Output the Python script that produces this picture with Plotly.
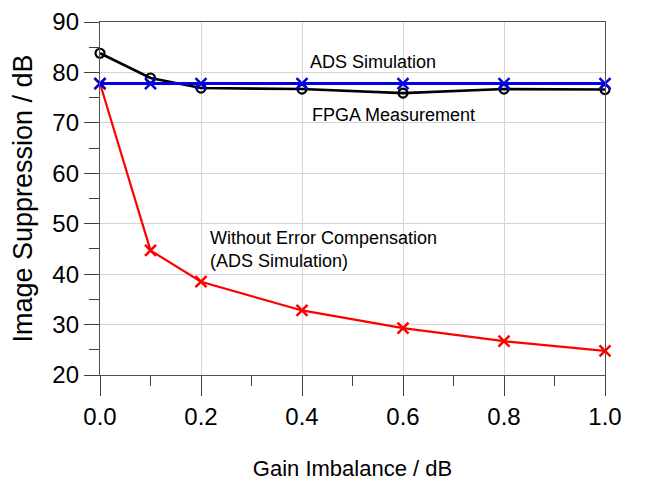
import plotly.graph_objects as go

gain_imbalance = [0.0, 0.1, 0.2, 0.4, 0.6, 0.8, 1.0]
fpga_measurement = [83.8, 78.9, 76.9, 76.7, 75.9, 76.7, 76.6]
ads_simulation = [77.8, 77.8, 77.8, 77.8, 77.8, 77.8, 77.8]
without_compensation = [77.8, 44.7, 38.5, 32.8, 29.3, 26.7, 24.8]

x_ticks = [0.0, 0.2, 0.4, 0.6, 0.8, 1.0]
x_tick_labels = ["0.0", "0.2", "0.4", "0.6", "0.8", "1.0"]
y_ticks = [20, 30, 40, 50, 60, 70, 80, 90]

FONT = "Liberation Sans, Arial, sans-serif"

fig = go.Figure()
fig.add_trace(go.Scatter(
    x=gain_imbalance, y=without_compensation, mode="lines+markers",
    line=dict(color="#ff0000", width=2.2),
    marker=dict(symbol="x-thin", size=11, line=dict(color="#ff0000", width=2.5)),
    cliponaxis=False, name="Without Error Compensation"))
fig.add_trace(go.Scatter(
    x=gain_imbalance, y=fpga_measurement, mode="lines+markers",
    line=dict(color="#000000", width=2.6),
    marker=dict(symbol="circle-open", size=9, color="#000000", line=dict(color="#000000", width=2.2)),
    cliponaxis=False, name="FPGA Measurement"))
fig.add_trace(go.Scatter(
    x=gain_imbalance, y=ads_simulation, mode="lines+markers",
    line=dict(color="#0000e0", width=3),
    marker=dict(symbol="x-thin", size=11, line=dict(color="#0000e0", width=2.5)),
    cliponaxis=False, name="ADS Simulation"))

fig.add_annotation(x=0.412, y=82.1, text="ADS Simulation", showarrow=False,
                   xanchor="left", yanchor="middle", font=dict(size=18, color="black", family=FONT))
fig.add_annotation(x=0.416, y=71.6, text="FPGA Measurement", showarrow=False,
                   xanchor="left", yanchor="middle", font=dict(size=18, color="black", family=FONT))
fig.add_annotation(x=0.214, y=44.8, text="Without Error Compensation<br>(ADS Simulation)", showarrow=False,
                   xanchor="left", yanchor="middle", align="left",
                   font=dict(size=18, color="black", family=FONT))

fig.update_layout(
    width=656, height=484,
    margin=dict(l=92, r=59, t=14, b=117),
    paper_bgcolor="white", plot_bgcolor="white",
    showlegend=False,
    font=dict(family=FONT, color="black"),
    xaxis=dict(
        range=[0, 1.0], tickvals=x_ticks, ticktext=x_tick_labels, automargin=False,
        ticks="outside", ticklen=20, tickwidth=1, tickcolor="#404040",
        minor=dict(dtick=0.1, ticks="outside", ticklen=10, tickcolor="#404040", showgrid=False),
        showgrid=True, gridcolor="#d4d4d4", gridwidth=1,
        showline=True, linecolor="#505050", linewidth=1.3, mirror=True,
        zeroline=False, tickfont=dict(size=24, family=FONT),
        title=dict(text="Gain Imbalance / dB", font=dict(size=22, family=FONT), standoff=31),
    ),
    yaxis=dict(
        range=[20, 90], tickvals=y_ticks, automargin=False,
        ticks="outside", ticklen=15, tickwidth=1, tickcolor="#404040",
        minor=dict(dtick=5, ticks="outside", ticklen=10, tickcolor="#404040", showgrid=False),
        showgrid=True, gridcolor="#d4d4d4", gridwidth=1,
        showline=True, linecolor="#505050", linewidth=1.3, mirror=True,
        zeroline=False, tickfont=dict(size=24, family=FONT),
        title=dict(text="Image Suppression / dB", font=dict(size=27, family=FONT), standoff=15),
    ),
)

fig.write_html("out.html")
